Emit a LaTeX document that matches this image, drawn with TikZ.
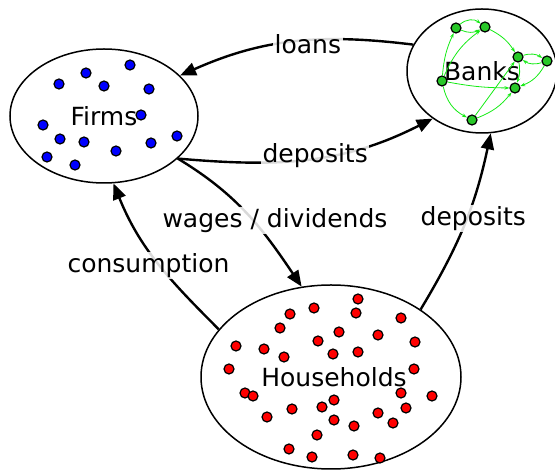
\documentclass[tikz,border=0pt]{standalone}
\usepackage{fontspec}
\setmainfont{DejaVu Sans}
\usetikzlibrary{arrows.meta, shapes.geometric, positioning}
\definecolor{bankgreen}{RGB}{40,200,40}
\definecolor{linkgreen}{RGB}{20,235,20}

\tikzset{
  agent/.style={ellipse, draw, line width=1.5pt, font=\fontsize{25}{30}\selectfont, inner sep=0pt},
  flow/.style={-{Triangle[length=16pt,width=13pt]}, line width=2.4pt},
  lbl/.style={fill=white, fill opacity=0.85, text opacity=1, inner sep=1.5pt, font=\fontsize{25}{30}\selectfont},
  bank/.style={circle, draw, fill=bankgreen, line width=1.2pt, minimum size=10pt, inner sep=0pt},
  link/.style={-{Stealth[length=5pt,width=3.5pt]}, linkgreen, line width=0.8pt},
}

\begin{document}
\begin{tikzpicture}[x=1pt, y=1pt]
	\useasboundingbox (0,0) rectangle (555,471);

	\node[agent, minimum width=188pt, minimum height=134pt] at (104,355) (firms) {Firms\hspace{10pt}};
	\node[agent, minimum width=150pt, minimum height=124pt] at (482,400) (banks) {Banks};
	\node[agent, minimum width=260pt, minimum height=184pt] at (331,94) (households) {\hspace{6pt}Households};

	% firms
	\foreach \x/\y in {59/387, 86/398, 130/406, 104/385, 149/382, 141/356, 43/346,
		60/332, 84/329, 116/320, 151/328, 177/335, 47/314, 75/306}
		\filldraw[fill=blue, line width=1.2pt] (\x,\y) circle (5pt);

	% households
	\foreach \x/\y in {358/172, 314/163, 290/157, 356/158, 401/153, 280/143, 339/139,
		378/136, 236/125, 264/122, 318/130, 284/114, 333/117, 358/119, 415/129,
		229/102, 414/102, 245/78, 253/75, 401/78, 432/75, 334/71, 322/64, 292/62,
		406/63, 267/54, 378/58, 334/51, 354/45, 393/48, 317/36, 289/22, 353/16,
		312/14, 380/13}
		\filldraw[fill=red, line width=1.2pt] (\x,\y) circle (5pt);

	% banks
	\node[bank] at (456,443) (b1) {};
	\node[bank] at (485,444) (b2) {};
	\node[bank] at (518,414) (b3) {};
	\node[bank] at (547,410) (b4) {};
	\node[bank] at (442,390) (b5) {};
	\node[bank] at (515,383) (b6) {};
	\node[bank] at (472,351) (b7) {};

	\path[link] (b1) edge[bend left=40] (b2);
	\path[link] (b5) edge[bend left=10] (b1);
	\path[link] (b5) edge[bend left=15] (b2);
	\path[link] (b1) edge[bend right=25] (b2);
	\path[link] (b2) edge[bend left=15] (b3);
	\path[link] (b3) edge[bend left=25] (b4);
	\path[link] (b4) edge[bend left=25] (b3);
	\path[link] (b4) edge[bend left=20] (b6);
	\path[link] (b5) edge[bend right=5] (b6);
	\path[link] (b5) edge[bend right=25] (b7);
	\path[link] (b7) edge[bend right=15] (b6);
	\path[link] (b7) edge (b3);
	\path[link] (b3) edge[bend left=15] (b6);

	% flows
	\path[flow] (banks.159) edge[out=173, in=24] node[lbl, pos=0.45, xshift=3pt, yshift=-3pt] {loans} (firms.28);
	\path[flow] (firms.-30) edge[out=-5, in=207] node[lbl, pos=0.5, xshift=6pt, yshift=3pt] {deposits} (banks.224);
	\path[flow] (firms.-30) edge[out=-31, in=124] node[lbl, pos=0.55, xshift=22pt] {wages / dividends} (households.108);
	\path[flow] (households.157) edge[out=135, in=-68] node[lbl, pos=0.45, xshift=-14pt, yshift=3pt] {consumption} (firms.-82);
	\path[flow] (households.37) edge[out=59, in=-102] node[lbl, pos=0.5, xshift=9pt, yshift=6pt] {deposits} (banks.-82);
\end{tikzpicture}
\end{document}
